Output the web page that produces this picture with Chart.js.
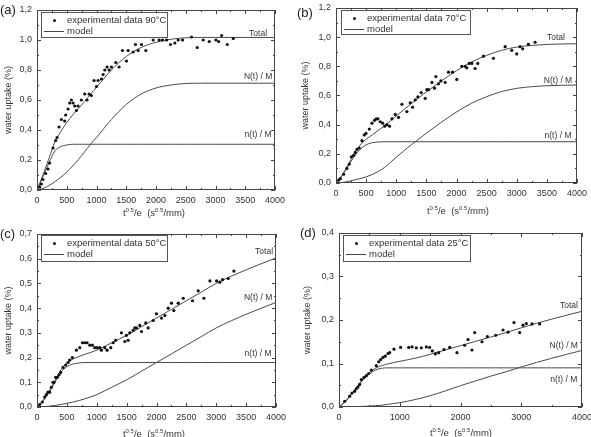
<!DOCTYPE html>
<html>
<head>
<meta charset="utf-8">
<script src="https://cdn.jsdelivr.net/npm/chart.js@4.4.1/dist/chart.umd.min.js"></script>
<style>
  body { margin: 0; background: #fff; font-family: "Liberation Sans", Arial, sans-serif; color: #333; }
  #page { position: relative; width: 591px; height: 437px; overflow: hidden; }
  canvas { position: absolute; }
  .tag { position: absolute; font-size: 13px; line-height: 14px; color: #222; }
  .xt { position: absolute; font-size: 9.5px; white-space: nowrap; transform: translate(-50%, -50%); color: #333; }
  .xt sup { font-size: 6px; vertical-align: 4px; line-height: 0; }
  .leg { position: absolute; border: 1px solid #555; background: #fff; box-sizing: border-box; font-size: 9.5px; }
  .leg div { position: absolute; white-space: nowrap; line-height: 12px; }
  .leg .dot { position: absolute; width: 3px; height: 3px; border-radius: 50%; background: #111; }
  .leg .ln { position: absolute; height: 1px; background: #444; }
</style>
</head>
<body>
<div id="page">
  <canvas id="cA" width="295" height="218" style="left:0;top:0"></canvas>
  <canvas id="cB" width="296" height="218" style="left:295px;top:0"></canvas>
  <canvas id="cC" width="295" height="217" style="left:0;top:220px"></canvas>
  <canvas id="cD" width="296" height="217" style="left:295px;top:220px"></canvas>
</div>
<script>
// common x grid for the model curves
const gridX = [0, 100, 200, 300, 400, 500, 600, 700, 800, 900, 1000, 1250, 1500, 1750, 2000, 2250, 2500, 2750, 3000, 3500, 4000];

// (a) 90°C
const expAx = [17,45,73,100,146,185,213,270,314,337,370,410,465,482,522,550,578,606,634,662,690,746,802,841,875,914,959,1000,1027,1083,1111,1139,1178,1212,1251,1324,1380,1436,1504,1532,1616,1655,1700,1756,1829,1952,2053,2109,2177,2244,2317,2373,2446,2598,2693,2794,2895,3007,3052,3103,3198,3299];
const expAy = [0.0,0.02,0.04,0.07,0.11,0.14,0.18,0.28,0.33,0.35,0.42,0.47,0.46,0.50,0.54,0.58,0.60,0.58,0.56,0.53,0.56,0.60,0.64,0.60,0.64,0.63,0.73,0.69,0.73,0.74,0.77,0.80,0.82,0.80,0.82,0.85,0.82,0.93,0.86,0.93,0.92,0.97,0.93,0.97,0.93,1.00,1.00,1.00,1.00,0.97,0.98,1.00,1.00,1.02,0.95,1.00,0.99,1.00,0.99,1.03,0.97,1.01];
const totalA = [0,0.10,0.21,0.32,0.39,0.45,0.50,0.545,0.59,0.64,0.685,0.80,0.89,0.95,0.985,1.005,1.015,1.017,1.017,1.017,1.017];
const bigNA = [0,0.01,0.03,0.055,0.085,0.12,0.16,0.205,0.255,0.305,0.35,0.47,0.57,0.64,0.68,0.70,0.71,0.712,0.712,0.712,0.712];
const smallNA = [0,0.09,0.18,0.26,0.29,0.30,0.305,0.305,0.305,0.305,0.305,0.305,0.305,0.305,0.305,0.305,0.305,0.305,0.305,0.305,0.305];

// (b) 70°C
const expBx = [44,72,127,182,221,254,292,320,348,386,431,470,497,553,597,640,668,696,734,774,807,845,889,928,983,1038,1094,1177,1232,1271,1315,1359,1414,1480,1508,1536,1591,1635,1657,1701,1740,1812,1867,1934,2005,2088,2143,2171,2210,2254,2309,2353,2448,2613,2807,2917,3000,3055,3099,3193,3304];
const expBy = [0.02,0.03,0.06,0.10,0.13,0.18,0.19,0.21,0.23,0.24,0.29,0.33,0.34,0.37,0.41,0.43,0.44,0.44,0.42,0.41,0.39,0.40,0.39,0.44,0.47,0.45,0.54,0.49,0.55,0.52,0.57,0.59,0.62,0.58,0.64,0.64,0.69,0.65,0.73,0.68,0.70,0.69,0.76,0.76,0.71,0.80,0.80,0.79,0.82,0.82,0.785,0.82,0.87,0.855,0.935,0.91,0.885,0.935,0.92,0.95,0.965];
const totalB = [0,0.053,0.125,0.20,0.26,0.30,0.33,0.36,0.39,0.425,0.46,0.545,0.625,0.70,0.77,0.83,0.875,0.91,0.932,0.95,0.955];
const bigNB = [0,0.003,0.01,0.02,0.03,0.042,0.058,0.079,0.105,0.14,0.177,0.262,0.342,0.417,0.487,0.547,0.592,0.627,0.649,0.667,0.672];
const smallNB = [0,0.05,0.115,0.18,0.23,0.262,0.276,0.281,0.283,0.283,0.283,0.283,0.283,0.283,0.283,0.283,0.283,0.283,0.283,0.283,0.283];

// (c) 50°C
const expCx = [45,89,128,156,184,212,240,268,285,313,341,369,397,436,480,520,547,592,659,715,760,799,838,883,927,966,1006,1050,1078,1134,1173,1235,1274,1318,1413,1469,1497,1525,1553,1609,1637,1665,1721,1749,1821,1860,1944,2000,2084,2140,2196,2251,2290,2363,2447,2603,2698,2793,2894,3006,3061,3106,3201,3296];
const expCy = [0.01,0.02,0.04,0.05,0.06,0.06,0.08,0.10,0.10,0.12,0.12,0.13,0.14,0.16,0.17,0.18,0.19,0.20,0.23,0.24,0.26,0.26,0.26,0.25,0.25,0.24,0.24,0.24,0.23,0.24,0.23,0.24,0.26,0.27,0.30,0.265,0.29,0.27,0.30,0.31,0.32,0.32,0.33,0.305,0.34,0.32,0.35,0.377,0.36,0.37,0.40,0.42,0.39,0.42,0.44,0.43,0.47,0.44,0.51,0.51,0.505,0.515,0.52,0.55];
const totalC = [0,0.026,0.061,0.106,0.15,0.178,0.194,0.204,0.213,0.221,0.23,0.26,0.29,0.325,0.36,0.395,0.43,0.465,0.50,0.555,0.603];
const bigNC = [0,0.001,0.003,0.006,0.01,0.015,0.02,0.026,0.033,0.041,0.05,0.08,0.11,0.145,0.18,0.215,0.25,0.285,0.32,0.375,0.423];
const smallNC = [0,0.025,0.058,0.10,0.14,0.163,0.174,0.178,0.18,0.18,0.18,0.18,0.18,0.18,0.18,0.18,0.18,0.18,0.18,0.18,0.18];

// (d) 25°C
const expDx = [93,176,214,258,285,313,340,368,412,450,488,532,614,653,686,724,763,807,834,905,1015,1147,1202,1273,1355,1438,1492,1536,1586,1641,1728,1822,1942,2069,2124,2189,2233,2354,2442,2579,2700,2782,2881,2974,3029,3084,3177,3303];
const expDy = [0.013,0.025,0.032,0.036,0.042,0.046,0.052,0.063,0.068,0.072,0.077,0.085,0.095,0.104,0.109,0.114,0.117,0.123,0.125,0.133,0.137,0.137,0.138,0.136,0.136,0.138,0.137,0.129,0.122,0.125,0.132,0.137,0.125,0.142,0.155,0.131,0.171,0.15,0.162,0.165,0.177,0.172,0.194,0.171,0.188,0.192,0.191,0.191];
const totalD = [0,0.012,0.029,0.047,0.065,0.079,0.089,0.095,0.099,0.102,0.105,0.112,0.121,0.131,0.141,0.151,0.161,0.171,0.182,0.202,0.22];
const bigND = [0,0.0002,0.0005,0.001,0.0015,0.002,0.003,0.004,0.006,0.008,0.01,0.017,0.026,0.037,0.049,0.06,0.071,0.081,0.092,0.112,0.13];
const smallND = [0,0.012,0.028,0.046,0.063,0.076,0.085,0.089,0.09,0.09,0.09,0.09,0.09,0.09,0.09,0.09,0.09,0.09,0.09,0.09,0.09];

const curveNames = ['Total', 'N(t) / M', 'n(t) / M'];

Chart.defaults.font.family = '"Liberation Sans", Arial, sans-serif';
Chart.defaults.color = '#333';

const page = document.getElementById('page');

function addHtml(p) {
  const tag = document.createElement('div');
  tag.className = 'tag';
  tag.textContent = p.tag;
  tag.style.left = p.tagPos[0] + 'px';
  tag.style.top = p.tagPos[1] + 'px';
  page.appendChild(tag);

  const xt = document.createElement('div');
  xt.className = 'xt';
  xt.innerHTML = 't<sup>0.5</sup>/e&nbsp;&nbsp;(s<sup>0.5</sup>/mm)';
  xt.style.left = p.xtPos[0] + 'px';
  xt.style.top = p.xtPos[1] + 'px';
  page.appendChild(xt);

  const lg = document.createElement('div');
  lg.className = 'leg';
  lg.style.left = p.leg[0] + 'px';
  lg.style.top = p.leg[1] + 'px';
  lg.style.width = p.leg[2] + 'px';
  lg.style.height = p.leg[3] + 'px';
  lg.innerHTML =
    '<span class="dot" style="left:11px;top:6px"></span>' +
    '<div style="left:25px;top:1px">experimental data ' + p.temp + '</div>' +
    '<span class="ln" style="left:2px;width:20px;top:18px"></span>' +
    '<div style="left:25px;top:12px">model</div>';
  page.appendChild(lg);
}

function panel(p) {
  addHtml(p);

  // frame with inward major/minor ticks on all four sides
  const frame = {
    id: 'frame',
    afterDraw(chart) {
      const { ctx, chartArea: a, scales: { x, y } } = chart;
      ctx.save();
      ctx.strokeStyle = '#444';
      ctx.lineWidth = 1;
      ctx.strokeRect(Math.round(a.left) + 0.5, Math.round(a.top) + 0.5, Math.round(a.width) - 1, Math.round(a.height) - 1);
      ctx.beginPath();
      for (let i = 0; i <= 2 * x.max / p.xStep; i++) {
        const px = Math.round(x.getPixelForValue(i * p.xStep / 2)) + 0.5;
        const len = i % 2 ? 2 : 4;
        ctx.moveTo(px, a.bottom); ctx.lineTo(px, a.bottom - len);
        ctx.moveTo(px, a.top); ctx.lineTo(px, a.top + len);
      }
      const ny = Math.round(2 * y.max / p.yStep);
      for (let i = 0; i <= ny; i++) {
        const py = Math.round(y.getPixelForValue(i * p.yStep / 2)) + 0.5;
        const len = i % 2 ? 2 : 4;
        ctx.moveTo(a.left, py); ctx.lineTo(a.left + len, py);
        ctx.moveTo(a.right, py); ctx.lineTo(a.right - len, py);
      }
      ctx.stroke();

      // curve names
      ctx.fillStyle = '#333';
      ctx.font = '8.5px "Liberation Sans", Arial, sans-serif';
      ctx.textAlign = 'center';
      ctx.textBaseline = 'middle';
      p.names.forEach((n, i) => {
        ctx.fillText(curveNames[i], x.getPixelForValue(n[0]), y.getPixelForValue(n[1]));
      });
      ctx.restore();
    }
  };

  const curve = (vals) => ({
    data: gridX.map((x, i) => ({ x, y: vals[i] })),
    borderColor: '#4a4a4a',
    borderWidth: 1,
    pointRadius: 0,
    cubicInterpolationMode: 'monotone',
    fill: false
  });

  new Chart(document.getElementById(p.id), {
    type: 'line',
    data: {
      datasets: [
        {
          data: p.ex.map((x, i) => ({ x, y: p.ey[i] })),
          showLine: false,
          pointRadius: 1.6,
          pointBackgroundColor: '#111',
          pointBorderWidth: 0
        },
        curve(p.total),
        curve(p.bigN),
        curve(p.smallN)
      ]
    },
    options: {
      responsive: false,
      animation: false,
      layout: { padding: { top: p.pad[0], right: p.pad[1], bottom: 0, left: 0 } },
      plugins: { legend: { display: false }, tooltip: { enabled: false } },
      scales: {
        x: {
          type: 'linear', min: 0, max: 4000,
          grid: { display: false, drawTicks: false },
          border: { display: false },
          ticks: { stepSize: p.xStep, padding: 5, autoSkip: false, maxRotation: 0, font: { size: 9 }, callback: v => String(v) },
          afterFit: s => { s.height = p.xh; s.paddingLeft = 0; s.paddingRight = 0; }
        },
        y: {
          min: 0, max: p.yMax,
          grid: { display: false, drawTicks: false },
          border: { display: false },
          ticks: { stepSize: p.yStep, padding: 5, font: { size: 9 }, callback: v => v.toFixed(1).replace('.', ',') },
          title: { display: true, text: 'water uptake (%)', font: { size: 9 }, padding: { top: p.ytPad, bottom: 0 } },
          afterFit: s => { s.width = p.yw; s.paddingTop = 0; s.paddingBottom = 0; }
        }
      }
    },
    plugins: [frame]
  });
}

panel({ id: 'cA', tag: '(a)', temp: '90°C', ex: expAx, ey: expAy, total: totalA, bigN: bigNA, smallN: smallNA,
  yMax: 1.2, yStep: 0.2, xStep: 500, pad: [10, 20], yw: 37, xh: 28, ytPad: 3,
  tagPos: [0, 3], xtPos: [154, 212], leg: [41, 12, 127, 26],
  names: [[3715, 1.04], [3715, 0.753], [3715, 0.367]] });

panel({ id: 'cB', tag: '(b)', temp: '70°C', ex: expBx, ey: expBy, total: totalB, bigN: bigNB, smallN: smallNB,
  yMax: 1.2, yStep: 0.2, xStep: 500, pad: [8, 14], yw: 41, xh: 35, ytPad: 5,
  tagPos: [297, 6], xtPos: [458, 210], leg: [341, 10, 130, 25],
  names: [[3650, 0.994], [3685, 0.70], [3685, 0.322]] });

panel({ id: 'cC', tag: '(c)', temp: '50°C', ex: expCx, ey: expCy, total: totalC, bigN: bigNC, smallN: smallNC,
  yMax: 0.7, yStep: 0.1, xStep: 500, pad: [14, 19], yw: 37, xh: 30, ytPad: 3,
  tagPos: [0, 227], xtPos: [154, 433], leg: [41, 235, 127, 27],
  names: [[3800, 0.627], [3700, 0.441], [3700, 0.214]] });

panel({ id: 'cD', tag: '(d)', temp: '25°C', ex: expDx, ey: expDy, total: totalD, bigN: bigND, smallN: smallND,
  yMax: 0.4, yStep: 0.1, xStep: 1000, pad: [13, 9], yw: 44, xh: 30, ytPad: 7,
  tagPos: [300, 226], xtPos: [461, 432], leg: [343, 235, 128, 27],
  names: [[3786, 0.232], [3700, 0.140], [3700, 0.064]] });
</script>
</body>
</html>
